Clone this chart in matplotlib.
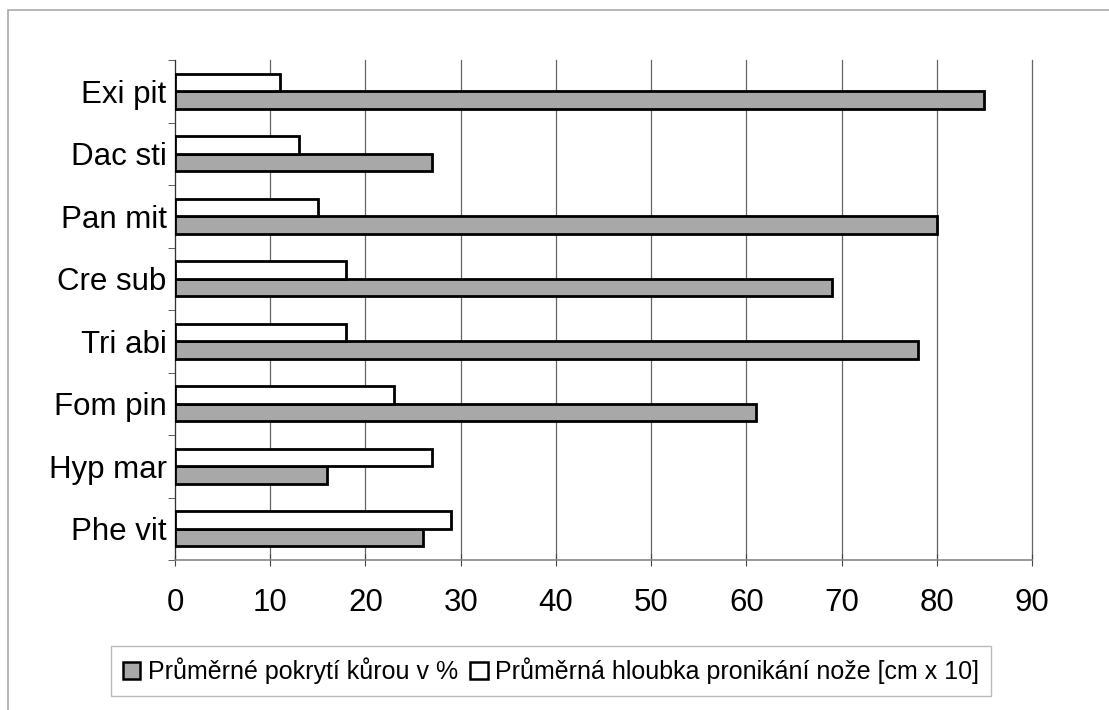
import matplotlib.pyplot as plt
import matplotlib.patches as mpatches
import numpy as np

plt.rcParams["font.family"] = ["Liberation Sans", "DejaVu Sans"]

# species, listed from bottom to top of the chart
species = ["Phe vit", "Hyp mar", "Fom pin", "Tri abi", "Cre sub", "Pan mit", "Dac sti", "Exi pit"]
bark_cover = [26, 16, 61, 78, 69, 80, 27, 85]          # % of bark cover
knife_depth = [29, 27, 23, 18, 18, 15, 13, 11]         # knife penetration, cm x 10

label_cover = "Průměrné pokrytí kůrou v %"
label_depth = "Průměrná hloubka pronikání nože [cm x 10]"

fig = plt.figure(figsize=(11.09, 7.10), dpi=100)
ax = fig.add_axes([175 / 1109, 1 - 560 / 710, 857 / 1109, 500 / 710])

y = np.arange(len(species))
h = 0.28
ax.barh(y - h / 2, bark_cover, height=h, color="#a8a8a8", edgecolor="black", linewidth=2.0, zorder=3)
ax.barh(y + h / 2, knife_depth, height=h, color="white", edgecolor="black", linewidth=2.0, zorder=3)

ax.set_xlim(0, 90)
ax.set_ylim(-0.5, len(species) - 0.5)
ax.set_xticks(np.arange(0, 91, 10))
ax.set_yticks(y)
ax.set_yticklabels(species)
ax.set_yticks(np.arange(-0.5, len(species), 1), minor=True)

ax.tick_params(axis="y", which="major", length=0, labelsize=22.5, pad=6)
ax.tick_params(axis="y", which="minor", length=5, direction="out", color="#444444")
ax.tick_params(axis="x", which="major", length=8, direction="inout", labelsize=22.5, pad=16, color="#444444")

ax.grid(axis="x", color="#666666", linewidth=0.9, zorder=0)
for gl in ax.get_xgridlines():
    gl.set_clip_on(False)
for s in ["top", "right"]:
    ax.spines[s].set_visible(False)
ax.spines["left"].set_color("#333333")
ax.spines["bottom"].set_color("#888888")
ax.spines["bottom"].set_linewidth(1.2)

handles = [
    mpatches.Patch(facecolor="#a8a8a8", edgecolor="black", linewidth=1.8, label=label_cover),
    mpatches.Patch(facecolor="white", edgecolor="black", linewidth=1.8, label=label_depth),
]
leg = fig.legend(
    handles=handles,
    loc="center",
    bbox_to_anchor=(551 / 1109, 1 - 671 / 710),
    ncol=2,
    fontsize=18,
    frameon=True,
    fancybox=False,
    handlelength=0.7,
    handleheight=0.7,
    handletextpad=0.3,
    columnspacing=0.5,
    borderpad=0.45,
)
leg.get_frame().set_edgecolor("#aaaaaa")
leg.get_frame().set_linewidth(1.0)

# outer chart frame
fig.add_artist(mpatches.Rectangle((8 / 1109, -0.1), 1.2, 1.1 - 10 / 710, transform=fig.transFigure,
                                  fill=False, edgecolor="#aaaaaa", linewidth=1.2))

fig.savefig("out.png", dpi=100)
